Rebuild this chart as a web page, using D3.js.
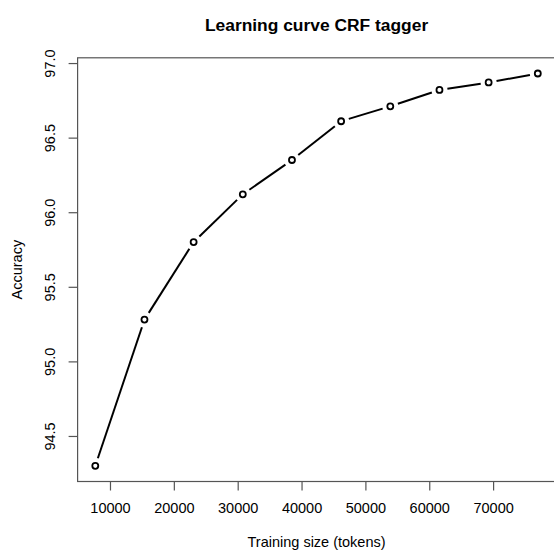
<!DOCTYPE html>
<html>
<head>
<meta charset="utf-8">
<script src="https://cdn.jsdelivr.net/npm/d3@7"></script>
<style>
  body { margin: 0; background: #fff; }
  text { font-family: "Liberation Sans", Arial, sans-serif; fill: #000; }
</style>
</head>
<body>
<svg width="554" height="551"></svg>
<script>
// Data
var trainingSize = [7700, 15400, 23100, 30800, 38500, 46200, 53900, 61600, 69300, 77000];
var accuracy = [94.30, 95.28, 95.80, 96.12, 96.35, 96.61, 96.71, 96.82, 96.87, 96.93];
var xTicks = [10000, 20000, 30000, 40000, 50000, 60000, 70000];
var yTicks = [94.5, 95.0, 95.5, 96.0, 96.5, 97.0];

var svg = d3.select("svg");
var plot = { left: 77.6, right: 555.5, top: 57.8, bottom: 481.5 };

// R style axis limits: data range padded by 4%
function padded(ext) {
  var d = (ext[1] - ext[0]) * 0.04;
  return [ext[0] - d, ext[1] + d];
}

var x = d3.scaleLinear()
  .domain(padded(d3.extent(trainingSize)))
  .range([plot.left, plot.right]);

var y = d3.scaleLinear()
  .domain(padded(d3.extent(accuracy)))
  .range([plot.bottom, plot.top]);

var points = trainingSize.map((t, i) => ({ x: x(t), y: y(accuracy[i]) }));

// type="b": segments stop short of the points
var gap = 8;
var segs = d3.pairs(points).map(function (p) {
  var dx = p[1].x - p[0].x, dy = p[1].y - p[0].y;
  var len = Math.sqrt(dx * dx + dy * dy);
  var ux = dx / len, uy = dy / len;
  return { x1: p[0].x + ux * gap, y1: p[0].y + uy * gap, x2: p[1].x - ux * gap, y2: p[1].y - uy * gap };
});

svg.append("g")
  .selectAll("line")
  .data(segs)
  .enter()
  .append("line")
  .attr("x1", d => d.x1).attr("y1", d => d.y1)
  .attr("x2", d => d.x2).attr("y2", d => d.y2)
  .attr("stroke", "#000")
  .attr("stroke-width", 2);

svg.append("g")
  .selectAll("circle")
  .data(points)
  .enter()
  .append("circle")
  .attr("cx", d => d.x)
  .attr("cy", d => d.y)
  .attr("r", 3)
  .attr("fill", "none")
  .attr("stroke", "#000")
  .attr("stroke-width", 1.8);

// Plot box
svg.append("rect")
  .attr("x", plot.left)
  .attr("y", plot.top)
  .attr("width", plot.right - plot.left)
  .attr("height", plot.bottom - plot.top)
  .attr("fill", "none")
  .attr("stroke", "#555")
  .attr("stroke-width", 1.2);

// x axis
var xAxis = svg.append("g")
  .attr("transform", "translate(0," + plot.bottom + ")")
  .call(d3.axisBottom(x).tickValues(xTicks).tickSize(9).tickPadding(12.7).tickFormat(d3.format("d")));
xAxis.select(".domain").remove();
xAxis.selectAll("line").attr("stroke", "#555").attr("stroke-width", 1.2);
xAxis.selectAll("text")
  .attr("font-family", "Liberation Sans, Arial, sans-serif")
  .attr("font-size", 14.5);

// y axis with rotated labels
var yAxis = svg.append("g")
  .attr("transform", "translate(" + plot.left + ",0)")
  .call(d3.axisLeft(y).tickValues(yTicks).tickSize(9).tickFormat(d3.format(".1f")));
yAxis.select(".domain").remove();
yAxis.selectAll("line").attr("stroke", "#555").attr("stroke-width", 1.2);
yAxis.selectAll("text")
  .attr("x", null)
  .attr("dy", null)
  .attr("transform", "translate(" + (55 - plot.left) + ",0) rotate(-90)")
  .attr("text-anchor", "middle")
  .attr("font-family", "Liberation Sans, Arial, sans-serif")
  .attr("font-size", 14.5);

// Titles
svg.append("text")
  .text("Learning curve CRF tagger")
  .attr("x", (plot.left + plot.right) / 2)
  .attr("y", 30.5)
  .attr("text-anchor", "middle")
  .attr("font-weight", "bold")
  .attr("font-size", 17.4);

svg.append("text")
  .text("Training size (tokens)")
  .attr("x", (plot.left + plot.right) / 2)
  .attr("y", 547)
  .attr("text-anchor", "middle")
  .attr("font-size", 14.5);

svg.append("text")
  .text("Accuracy")
  .attr("transform", "translate(22," + (plot.top + plot.bottom) / 2 + ") rotate(-90)")
  .attr("text-anchor", "middle")
  .attr("font-size", 14.5);
</script>
</body>
</html>
